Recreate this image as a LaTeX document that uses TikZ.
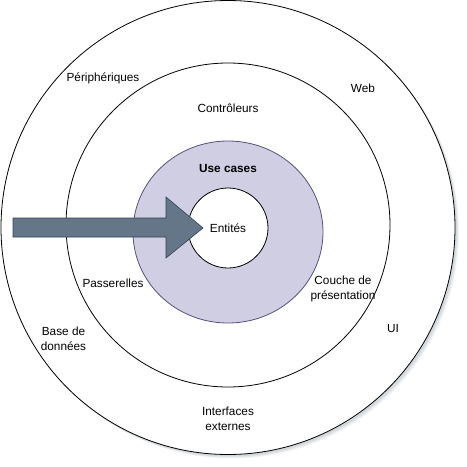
\documentclass[tikz,border=0pt]{standalone}
\usepackage{fontspec}
\setmainfont{Liberation Sans}
\usetikzlibrary{shapes.geometric}
\definecolor{purpfill}{HTML}{D0CEE2}
\definecolor{purpline}{HTML}{56517E}
\definecolor{slatefill}{HTML}{647687}
\definecolor{slateline}{HTML}{314354}
\begin{document}
\begin{tikzpicture}[x=1pt,y=-1pt,
  lbl/.style={font=\fontsize{11.8}{15}\selectfont, align=center, inner sep=0pt},
  ring/.style={draw=black, line width=0.8pt, fill=white, inner sep=0pt}]
\useasboundingbox (0,0) rectangle (467,467);
\fill[white] (0,0) rectangle (467,467);
% shadow of outer circle
\foreach \o/\a in {4/0.08,3/0.1,2/0.12}{
  \fill[slatefill, opacity=\a] (228+\o,227.5+\o) circle[radius=227];
}
\node[ring, circle, minimum size=454pt] (outer) at (228,227.5) {};
\node[ring, circle, minimum size=324pt] (middle) at (228,225) {};
\node[draw=purpline, fill=purpfill, line width=0.8pt, ellipse, inner sep=0pt,
      minimum width=190pt, minimum height=182pt] (usecase) at (228,232) {};
\node[ring, circle, minimum size=80pt] (core) at (228,228) {};
% arrow
\filldraw[fill=slatefill, draw=slateline, line width=0.6pt]
  (13,218) -- (166,218) -- (166,197) -- (203,228) -- (166,258) -- (166,237) -- (13,237) -- cycle;
% labels
\node[lbl] (peri) at (103,78) {Périphériques};
\node[lbl] (web) at (363,88) {Web};
\node[lbl] (ctrl) at (228,108) {Contrôleurs};
\node[lbl, font=\fontsize{11.8}{15}\selectfont\bfseries] (uc) at (228,168) {Use cases};
\node[lbl] (ent) at (228,228) {Entités};
\node[lbl] (pass) at (113,283) {Passerelles};
\node[lbl] (couche) at (343,288.5) {Couche de\\présentation};
\node[lbl] (ui) at (393,328) {UI};
\node[lbl] (bdd) at (63.5,339) {Base de\\données};
\node[lbl] (ext) at (228,418.5) {Interfaces\\externes};
\end{tikzpicture}
\end{document}
